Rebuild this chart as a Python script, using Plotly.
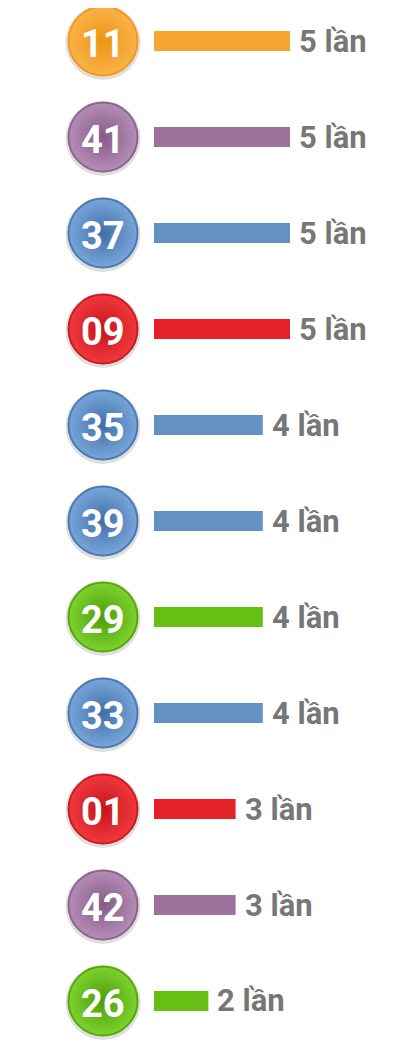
import plotly.graph_objects as go

# numbers drawn and how many times each appeared
numbers = ["11", "41", "37", "09", "35", "39", "29", "33", "01", "42", "26"]
counts = [5, 5, 5, 5, 4, 4, 4, 4, 3, 3, 2]
ball_colors = ["#F7A12A", "#A27BA5", "#5F8FC8", "#E8222A", "#5F8FC8",
               "#5F8FC8", "#67C217", "#5F8FC8", "#E8222A", "#A27BA5", "#67C217"]
ball_palette = {
    "#F7A12A": ("#F9B24A", "#EE9510", "#F59A14"),
    "#A27BA5": ("#B48DB6", "#855A89", "#8C6490"),
    "#5F8FC8": ("#79A5D8", "#3F6FAA", "#4A79B5"),
    "#E8222A": ("#F0393F", "#C5141B", "#D01A20"),
    "#67C217": ("#7DD12F", "#4C9E08", "#55A90C"),
}
bar_colors = {"#F7A12A": "#F5A631", "#A27BA5": "#9E719A", "#5F8FC8": "#6490C3",
              "#E8222A": "#E42126", "#67C217": "#66C014"}
labels = [f"{c} lần" for c in counts]

rows = list(range(len(numbers)))
BALL_X = -1.875

fig = go.Figure()

# bars
fig.add_trace(go.Bar(
    x=counts, y=rows, orientation="h", width=0.21,
    marker=dict(color=[bar_colors[c] for c in ball_colors], line=dict(width=0)),
    hoverinfo="skip",
))

# ball shadow
fig.add_trace(go.Scatter(
    x=[BALL_X] * len(rows), y=[r + 0.015 for r in rows], mode="markers",
    marker=dict(size=75, color="rgba(0,0,0,0.13)", line=dict(width=0)),
    hoverinfo="skip",
))

# balls
fig.add_trace(go.Scatter(
    x=[BALL_X] * len(rows), y=rows, mode="markers",
    marker=dict(
        size=69,
        color=[ball_palette[c][0] for c in ball_colors],
        gradient=dict(type="radial", color=[ball_palette[c][1] for c in ball_colors]),
        line=dict(width=2, color=[ball_palette[c][2] for c in ball_colors]),
    ),
    hoverinfo="skip",
))

# ball numbers
for r, n in zip(rows, numbers):
    fig.add_annotation(
        x=BALL_X, y=r, text=n, showarrow=False, xanchor="center", yanchor="middle",
        yshift=-3,
        font=dict(family="Roboto", size=38, color="white", weight="bold"),
    )

# count labels
for r, c, lab in zip(rows, counts, labels):
    fig.add_annotation(
        x=c, y=r, text=lab, showarrow=False, xanchor="left", yanchor="middle",
        xshift=7, yshift=0,
        font=dict(family="Roboto", size=31, color="#777777", weight="bold"),
    )

# page has an 8px body margin, so the ranges are shifted to compensate
fig.update_layout(
    width=415, height=1048,
    margin=dict(l=0, r=0, t=0, b=0),
    plot_bgcolor="white", paper_bgcolor="white",
    showlegend=False,
    xaxis=dict(range=[-5.368, 9.890], visible=False, fixedrange=True),
    yaxis=dict(range=[10.573, -0.344], visible=False, fixedrange=True),
)

fig.write_html("out.html")
